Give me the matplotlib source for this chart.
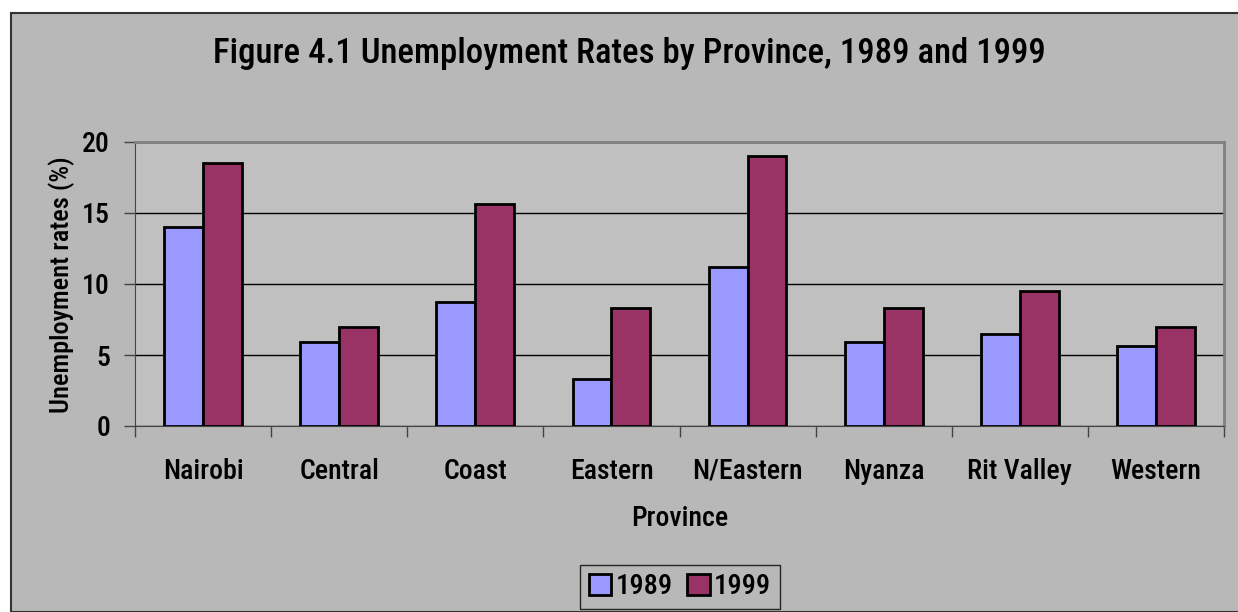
import numpy as np
import matplotlib

matplotlib.use("Agg")
import matplotlib.pyplot as plt
from matplotlib.patches import Rectangle

provinces = ["Nairobi", "Central", "Coast", "Eastern", "N/Eastern", "Nyanza", "Rit Valley", "Western"]
rates_1989 = [14.0, 5.9, 8.7, 3.3, 11.2, 5.9, 6.5, 5.6]
rates_1999 = [18.5, 7.0, 15.6, 8.3, 19.0, 8.3, 9.5, 7.0]
years = ["1989", "1999"]

plt.rcParams["font.family"] = ["Liberation Sans Narrow", "Roboto Condensed", "Archivo Narrow",
                               "PT Sans Narrow", "Fira Sans Condensed", "DejaVu Sans"]
WEIGHT = "medium"

W, H = 1238, 612
fig = plt.figure(figsize=(W / 100, H / 100), dpi=100)
fig.patch.set_facecolor("white")

# chart area frame
fig.patches.append(Rectangle((11 / W, 0), 1.1, (H - 13) / H, transform=fig.transFigure,
                             facecolor="#b8b8b8", edgecolor="#333333", linewidth=1.5, zorder=-1))

left, right, top, bottom = 135, 1224, 142, 426
ax = fig.add_axes([left / W, 1 - bottom / H, (right - left) / W, (bottom - top) / H])
ax.set_facecolor("#c0c0c0")

x = np.arange(len(provinces))
w = 1 / 3.5
ax.bar(x - w / 2, rates_1989, w, color="#9999ff", edgecolor="black", linewidth=2, zorder=3, label=years[0])
ax.bar(x + w / 2, rates_1999, w, color="#993366", edgecolor="black", linewidth=2, zorder=3, label=years[1])

ax.set_xlim(-0.5, len(provinces) - 0.5)
ax.set_ylim(0, 20)
ax.set_yticks([0, 5, 10, 15, 20])
ax.yaxis.grid(True, color="black", linewidth=1, zorder=1)
ax.set_xticks(np.arange(len(provinces) + 1) - 0.5)
ax.set_xticklabels([])
ax.set_xticks(x, minor=True)
ax.set_xticklabels(provinces, minor=True, fontsize=20, fontweight=WEIGHT)
ax.tick_params(axis="x", which="minor", length=0, pad=23)
ax.tick_params(axis="x", which="major", length=8, width=1, color="#444444", direction="out")
ax.tick_params(axis="y", length=8, width=1, color="#444444", labelsize=20, pad=10)
for lbl in ax.get_yticklabels():
    lbl.set_fontweight(WEIGHT)

for side in ["top", "right"]:
    ax.spines[side].set_color("#808080")
    ax.spines[side].set_linewidth(2)
ax.spines["left"].set_color("#444444")
ax.spines["bottom"].set_color("#444444")

fig.text(629 / W, 1 - 53 / H, "Figure 4.1 Unemployment Rates by Province, 1989 and 1999",
         ha="center", va="center", fontsize=25, fontweight=WEIGHT)
fig.text(62 / W, 1 - 285 / H, "Unemployment rates (%)", rotation=90,
         ha="center", va="center", fontsize=19, fontweight=WEIGHT)
fig.text(680 / W, 1 - 519 / H, "Province", ha="center", va="center", fontsize=20, fontweight=WEIGHT)

leg = fig.legend(loc="center", bbox_to_anchor=(680 / W, 1 - 587 / H), ncol=2, frameon=True,
                 fancybox=False, edgecolor="black", facecolor="#b8b8b8",
                 handlelength=0.8, handleheight=0.8, handletextpad=0.15, columnspacing=0.5,
                 borderpad=0.3, prop={"weight": WEIGHT, "size": 20.5})
leg.get_frame().set_linewidth(1)
for h in leg.legend_handles:
    h.set_linewidth(2)

fig.savefig("out.png", dpi=100)
